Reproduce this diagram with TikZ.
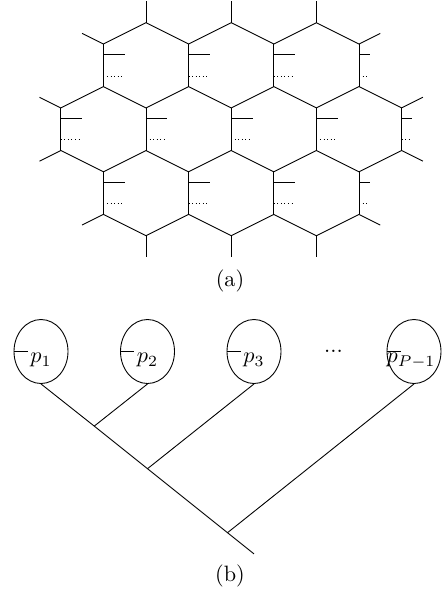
\documentclass[tikz,border=0pt]{standalone}
\usetikzlibrary{shapes.geometric}
\begin{document}
\begin{tikzpicture}[x=0.45pt,y=-0.45pt,line width=0.4pt,
  hexedge/.style={draw=black},
  solidtick/.style={draw=black},
  dottick/.style={draw=black,dash pattern=on 0.4pt off 1.2pt},
  leaf/.style={draw,ellipse,inner sep=0pt,minimum width=24.3pt,minimum height=28.8pt},
  leaflabel/.style={anchor=base,inner sep=0pt},
  caption/.style={inner sep=0pt}]
\useasboundingbox (0,0) rectangle (446,590);
% ---------------- (a) hexagonal lattice ----------------
\begin{scope}[shift={(146,65.3)},x=19.17pt,y=-19.17pt]
  % zig-zag rows (each edge drawn once)
  \draw[hexedge] (-1.5,-0.75) -- (-1,-0.5) -- (0,-1) -- (1,-0.5) -- (2,-1) -- (3,-0.5) -- (4,-1) -- (5,-0.5) -- (5.5,-0.75);
  \draw[hexedge] (-2.5,0.75) -- (-2,1) -- (-1,0.5) -- (0,1) -- (1,0.5) -- (2,1) -- (3,0.5) -- (4,1) -- (5,0.5) -- (6,1) -- (6.5,0.75);
  \draw[hexedge] (-2.5,2.25) -- (-2,2) -- (-1,2.5) -- (0,2) -- (1,2.5) -- (2,2) -- (3,2.5) -- (4,2) -- (5,2.5) -- (6,2) -- (6.5,2.25);
  \draw[hexedge] (-1.5,3.75) -- (-1,3.5) -- (0,4) -- (1,3.5) -- (2,4) -- (3,3.5) -- (4,4) -- (5,3.5) -- (5.5,3.75);
  % vertical sides
  \foreach \x in {-1,1,3,5}{
    \draw[hexedge] (\x,-0.5) -- (\x,0.5);
    \draw[hexedge] (\x,2.5) -- (\x,3.5);
  }
  \foreach \x in {-2,0,2,4,6}{
    \draw[hexedge] (\x,1) -- (\x,2);
  }
  % outer vertical half-edges
  \foreach \x in {0,2,4}{
    \draw[hexedge] (\x,-1) -- (\x,-1.5);
    \draw[hexedge] (\x,4) -- (\x,4.5);
  }
  % ticks on vertical sides
  \foreach \xs/\yc/\len in {-1/0/0.5,1/0/0.5,3/0/0.5,5/0/0.25,
                            -2/1.5/0.5,0/1.5/0.5,2/1.5/0.5,4/1.5/0.5,6/1.5/0.25,
                            -1/3/0.5,1/3/0.5,3/3/0.5,5/3/0.25}{
    \draw[solidtick] (\xs,\yc-0.25) -- (\xs+\len,\yc-0.25);
    \draw[dottick] (\xs,\yc+0.25) -- (\xs+\len,\yc+0.25);
  }
\end{scope}
\node[caption] (capa) at (230,281) {(a)};
% ---------------- (b) tree ----------------
\node[leaf] (e1) at (41,351.5) {};
\node[leaf] (e2) at (147.5,351.5) {};
\node[leaf] (e3) at (254,351.5) {};
\node[leaf] (e4) at (414,351.5) {};
\node[leaflabel] (l1) at (41,362.7) {$p_1$};
\node[leaflabel] (l2) at (147.5,362.7) {$p_2$};
\node[leaflabel] (l3) at (254,362.7) {$p_3$};
\node[leaflabel] (l4) at (411,362.7) {$p_{P-1}$};
\node (dots) at (333.5,351.5) {...};
\foreach \e in {e1,e2,e3,e4}{
  \draw (\e.west) -- ++(14,0);
}
\coordinate (j1) at (94.25,426.1);
\coordinate (j2) at (147.5,468.7);
\coordinate (j3) at (227.5,532.7);
\coordinate (tend) at (254,553.9);
\draw (e1.south) -- (j1) -- (j2) -- (j3) -- (tend);
\draw (e2.south) -- (j1);
\draw (e3.south) -- (j2);
\draw (e4.south) -- (j3);
\node[caption] (capb) at (230,576) {(b)};
\end{tikzpicture}
\end{document}
